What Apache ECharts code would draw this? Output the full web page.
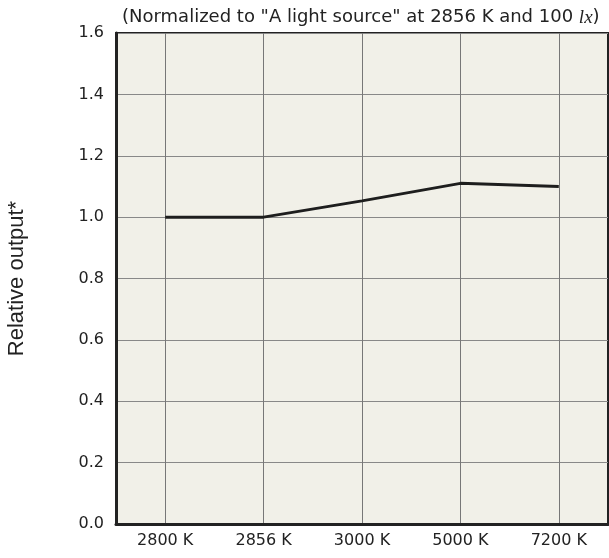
<!DOCTYPE html>
<html><head><meta charset="utf-8">
<script src="https://cdn.jsdelivr.net/npm/echarts@6/dist/echarts.min.js"></script>
<style>html,body{margin:0;padding:0;background:#fff}#c{width:609px;height:558px}</style>
</head><body><div id="c"></div>
<script>
const categories = ["2800 K", "2856 K", "3000 K", "5000 K", "7200 K"];
const relativeOutput = [1.0, 1.0, 1.053, 1.11, 1.10];
const yTicks = { min: 0, max: 1.6, interval: 0.2 };
const yName = "Relative output*";

const font = "Tahoma, 'DejaVu Sans', Verdana, sans-serif";
const chart = echarts.init(document.getElementById('c'), null, { renderer: 'canvas' });
chart.setOption({
  animation: false,
  backgroundColor: '#ffffff',
  title: {
    text: '(Normalized to "A light source" at 2856 K and 100 {it|lx})',
    left: 117, top: 3,
    textStyle: {
      fontFamily: font, fontSize: 18, fontWeight: 'normal', color: '#222',
      rich: { it: { fontFamily: "'Liberation Serif', 'DejaVu Serif', serif", fontStyle: 'italic', fontSize: 19, color: '#222' } }
    }
  },
  grid: { left: 116, right: 1, top: 33, bottom: 34, outerBoundsMode: 'none', containLabel: false, show: true, backgroundColor: '#f1f0e8', borderColor: '#222', borderWidth: 2 },
  xAxis: {
    type: 'category', data: categories, boundaryGap: true,
    axisLine: { show: true, lineStyle: { color: '#222', width: 3 } },
    axisTick: { show: false },
    axisLabel: { fontFamily: font, fontSize: 16, color: '#222', margin: 9 },
    splitLine: { show: true, alignWithLabel: true, lineStyle: { color: '#777', width: 1 } }
  },
  yAxis: {
    type: 'value', min: yTicks.min, max: yTicks.max, interval: yTicks.interval,
    name: yName, nameLocation: 'middle', nameGap: 88, nameRotate: 90,
    nameTextStyle: { fontFamily: "'Liberation Sans', Arial, sans-serif", fontSize: 22, color: '#222' },
    axisLine: { show: true, lineStyle: { color: '#222', width: 3 } },
    axisTick: { show: false },
    axisLabel: { fontFamily: font, fontSize: 16, color: '#222', margin: 12, formatter: v => v.toFixed(1) },
    splitLine: { show: true, lineStyle: { color: '#888', width: 1 } }
  },
  series: [{
    type: 'line', data: relativeOutput, symbol: 'none',
    lineStyle: { color: '#1e1e1e', width: 3 }
  }]
});
</script></body></html>
